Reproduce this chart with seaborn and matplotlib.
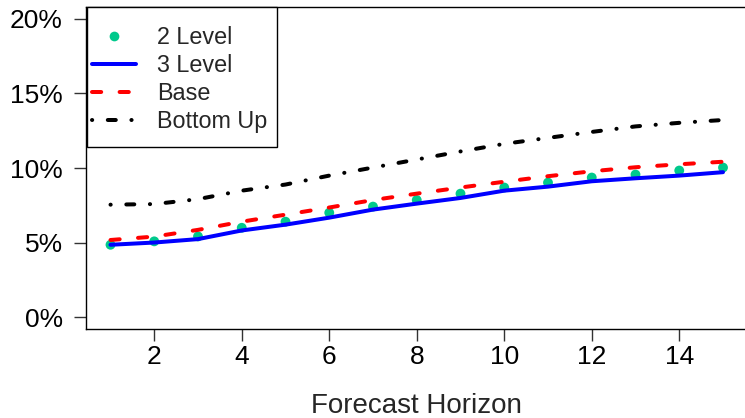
import numpy as np
import pandas as pd
import matplotlib
matplotlib.use("Agg")
import matplotlib.pyplot as plt
from matplotlib.patches import Rectangle
from matplotlib.lines import Line2D
import seaborn as sns

# ---- data (percent) ----
horizon = list(range(1, 16))
level2 = [4.85, 5.08, 5.41, 5.99, 6.40, 7.00, 7.41, 7.85, 8.28, 8.69, 9.02, 9.36, 9.56, 9.83, 10.03]
level3 = [4.85, 5.00, 5.23, 5.81, 6.20, 6.67, 7.21, 7.61, 7.99, 8.48, 8.75, 9.11, 9.31, 9.49, 9.72]
base = [5.17, 5.40, 5.85, 6.40, 6.87, 7.35, 7.85, 8.28, 8.69, 9.08, 9.45, 9.78, 10.05, 10.25, 10.42]
bottom_up = [7.54, 7.58, 7.91, 8.48, 8.89, 9.49, 10.03, 10.57, 11.11, 11.62, 12.02, 12.42, 12.79, 13.03, 13.22]
y_ticks = [0, 5, 10, 15, 20]
x_ticks = [2, 4, 6, 8, 10, 12, 14]
labels = ["2 Level", "3 Level", "Base", "Bottom Up"]

sns.set_theme(style="white")
plt.rcParams["font.family"] = ["Liberation Sans", "DejaVu Sans"]

W, H = 745, 418
fig = plt.figure(figsize=(W / 100, H / 100), dpi=100)
# axes region in pixels: left 86, right 747.5, top 7, bottom 329
ax = fig.add_axes([86 / W, (H - 329) / H, 661.5 / W, 322 / H])

df = pd.DataFrame({"h": horizon, "l2": level2, "l3": level3, "base": base, "bu": bottom_up})

LW = 2.88
green = "#00C98C"
dash_red = (0, (2.3, 4.6))
dash_black = (0, (0.05, 3.9, 2.0, 3.9))

sns.scatterplot(data=df, x="h", y="l2", ax=ax, color=green, s=50, edgecolor="none", zorder=2)
sns.lineplot(data=df, x="h", y="l3", ax=ax, color="#0000FF", linewidth=LW, zorder=3)
sns.lineplot(data=df, x="h", y="base", ax=ax, color="#FF0000", linewidth=LW, zorder=4)
ax.lines[-1].set_linestyle(dash_red)
ax.lines[-1].set_dash_capstyle("round")
sns.lineplot(data=df, x="h", y="bu", ax=ax, color="black", linewidth=LW, zorder=5)
ax.lines[-1].set_linestyle(dash_black)
ax.lines[-1].set_dash_capstyle("round")

ax.set_xlim(0.44, 15.56)
ax.set_ylim(-0.8, 20.8)
ax.set_xticks(x_ticks)
ax.set_xticklabels([str(t) for t in x_ticks])
ax.set_yticks(y_ticks)
ax.set_yticklabels([f"{t}%" for t in y_ticks])
ax.set_ylabel("")
ax.set_xlabel("Forecast Horizon", fontsize=20)
ax.xaxis.set_label_coords(0.5, -0.199)

for side in ["left", "bottom", "top", "right"]:
    ax.spines[side].set_visible(True)
    ax.spines[side].set_color("black")
    ax.spines[side].set_linewidth(1.0)

ax.tick_params(axis="both", which="major", direction="out", length=8.6, width=1.0,
               color="#333333", labelsize=19, labelcolor="black",
               bottom=True, left=True, top=False, right=False)
ax.tick_params(axis="x", pad=3)
ax.tick_params(axis="y", pad=8)
ax.grid(False)

# legend
handles = [
    Line2D([], [], linestyle="none", marker="o", markersize=7, color=green, markeredgewidth=0),
    Line2D([], [], color="#0000FF", linewidth=LW),
    Line2D([], [], color="#FF0000", linewidth=LW, linestyle=dash_red, dash_capstyle="round"),
    Line2D([], [], color="black", linewidth=LW, linestyle=dash_black, dash_capstyle="round"),
]
leg = ax.legend(handles, labels, loc="upper left", bbox_to_anchor=((92 - 86) / 661.5, 1 - (26 - 7) / 322),
                frameon=False, fontsize=16.8, handlelength=1.9, handletextpad=0.9,
                labelspacing=0.22, borderaxespad=0, borderpad=0)
# legend box
bx0 = (87 - 86) / 661.5
bx1 = (277 - 86) / 661.5
by0 = (329 - 147) / 322
by1 = (329 - 7) / 322
ax.add_patch(Rectangle((bx0, by0), bx1 - bx0, by1 - by0, transform=ax.transAxes,
                       fill=True, facecolor="white", edgecolor="black", linewidth=1.0,
                       clip_on=False, zorder=6))
leg.set_zorder(7)

fig.savefig("out.png", dpi=100)
